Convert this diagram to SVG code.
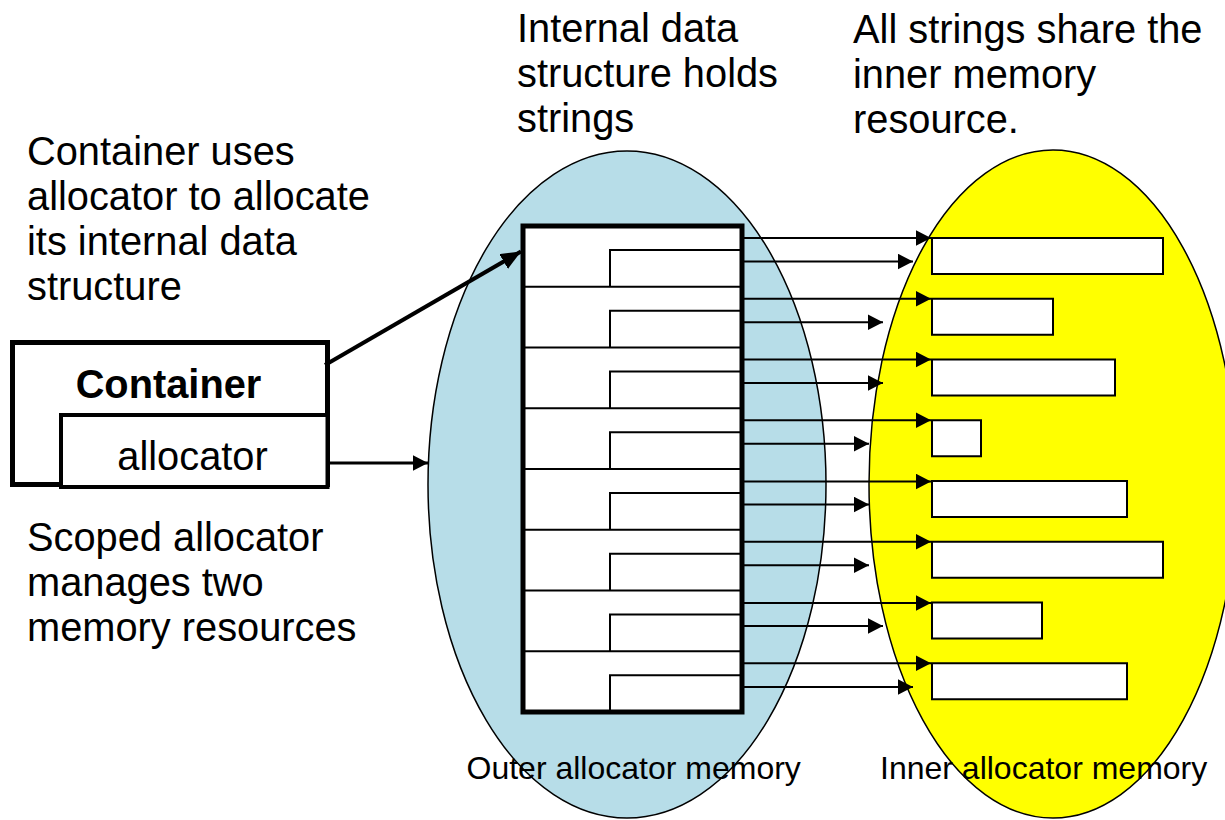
<svg xmlns="http://www.w3.org/2000/svg" width="1225" height="820" viewBox="0 0 1225 820">
<style>
text{font-family:"Liberation Sans",Arial,sans-serif;fill:#000}
.big{font-size:39.8px}
.small{font-size:32px}
.cell{stroke:#000;stroke-width:2;fill:none}
.str{fill:#fff;stroke:#000;stroke-width:2}
.ptr{stroke:#000;stroke-width:2.2;fill:none;marker-end:url(#head)}
</style>
<defs>
<marker id="head" markerUnits="userSpaceOnUse" markerWidth="16" markerHeight="16" refX="15.5" refY="8" orient="auto">
<path d="M0,0 L15.5,8 L0,16 z" fill="#000"/>
</marker>
<marker id="headBig" markerUnits="userSpaceOnUse" markerWidth="21" markerHeight="18" refX="20" refY="8.5" orient="auto">
<path d="M0,0 L20,8.5 L0,17 z" fill="#000"/>
</marker>
</defs>

<g id="outer-memory">
<ellipse cx="627" cy="484.5" rx="199" ry="333.5" fill="#B7DDE8" stroke="#000" stroke-width="1.5"/>
</g>
<g id="inner-memory">
<ellipse cx="1053" cy="484" rx="184" ry="334" fill="#FFFF00" stroke="#000" stroke-width="1.5"/>
</g>

<g id="data-structure">
<rect x="523" y="226" width="219" height="486" fill="#fff" stroke="none"/>
<g class="cell">
<path d="M523,286.75H742 M523,347.5H742 M523,408.25H742 M523,469H742 M523,529.75H742 M523,590.5H742 M523,651.25H742"/>
<path d="M742,250H610V286.75"/>
<path d="M742,310.75H610V347.5"/>
<path d="M742,371.5H610V408.25"/>
<path d="M742,432.25H610V469"/>
<path d="M742,493H610V529.75"/>
<path d="M742,553.75H610V590.5"/>
<path d="M742,614.5H610V651.25"/>
<path d="M742,675.25H610V712"/>
</g>
<rect x="523" y="226" width="219" height="486" fill="none" stroke="#000" stroke-width="5"/>
</g>

<g id="strings">
<rect class="str" x="932" y="238" width="231" height="36"/>
<rect class="str" x="932" y="298.75" width="121" height="36"/>
<rect class="str" x="932" y="359.5" width="183" height="36"/>
<rect class="str" x="932" y="420.25" width="49" height="36"/>
<rect class="str" x="932" y="481" width="195" height="36"/>
<rect class="str" x="932" y="541.75" width="231" height="36"/>
<rect class="str" x="932" y="602.5" width="110" height="36"/>
<rect class="str" x="932" y="663.25" width="195" height="36"/>
</g>

<g id="container">
<rect x="12.5" y="342.5" width="315" height="142" fill="#fff" stroke="#000" stroke-width="5"/>
<text class="big" x="168.5" y="398" text-anchor="middle" font-weight="bold">Container</text>
</g>
<g id="allocator">
<rect x="61" y="415" width="266.5" height="72" fill="#fff" stroke="#000" stroke-width="4"/>
<text class="big" x="192.5" y="470" text-anchor="middle">allocator</text>
</g>

<g id="connectors">
<line x1="325" y1="365" x2="521" y2="251.5" stroke="#000" stroke-width="4" marker-end="url(#headBig)"/>
<line x1="327" y1="463" x2="428" y2="463" stroke="#000" stroke-width="3" marker-end="url(#head)"/>
<path class="ptr" d="M743,238H931"/>
<path class="ptr" d="M743,261.5H913"/>
<path class="ptr" d="M743,298.75H931"/>
<path class="ptr" d="M743,322.25H883"/>
<path class="ptr" d="M743,359.5H931"/>
<path class="ptr" d="M743,383H883"/>
<path class="ptr" d="M743,420.25H931"/>
<path class="ptr" d="M743,443.75H869"/>
<path class="ptr" d="M743,481.5H931"/>
<path class="ptr" d="M743,504.5H869"/>
<path class="ptr" d="M743,541.75H931"/>
<path class="ptr" d="M743,565.25H869"/>
<path class="ptr" d="M743,603H931"/>
<path class="ptr" d="M743,626H883"/>
<path class="ptr" d="M743,663.25H931"/>
<path class="ptr" d="M743,687H913"/>
</g>

<g id="labels">
<text class="big" x="27" y="165">Container uses</text>
<text class="big" x="27" y="210">allocator to allocate</text>
<text class="big" x="27" y="255">its internal data</text>
<text class="big" x="27" y="299.5">structure</text>
<text class="big" x="27" y="551">Scoped allocator</text>
<text class="big" x="27" y="596">manages two</text>
<text class="big" x="27" y="641">memory resources</text>
<text class="big" x="517" y="42">Internal data</text>
<text class="big" x="517" y="87">structure holds</text>
<text class="big" x="517" y="132">strings</text>
<text class="big" x="853" y="43">All strings share the</text>
<text class="big" x="853" y="88">inner memory</text>
<text class="big" x="853" y="133">resource.</text>
<text class="small" x="466.5" y="779">Outer allocator memory</text>
<text class="small" x="880" y="778.5">Inner allocator memory</text>
</g>
</svg>
